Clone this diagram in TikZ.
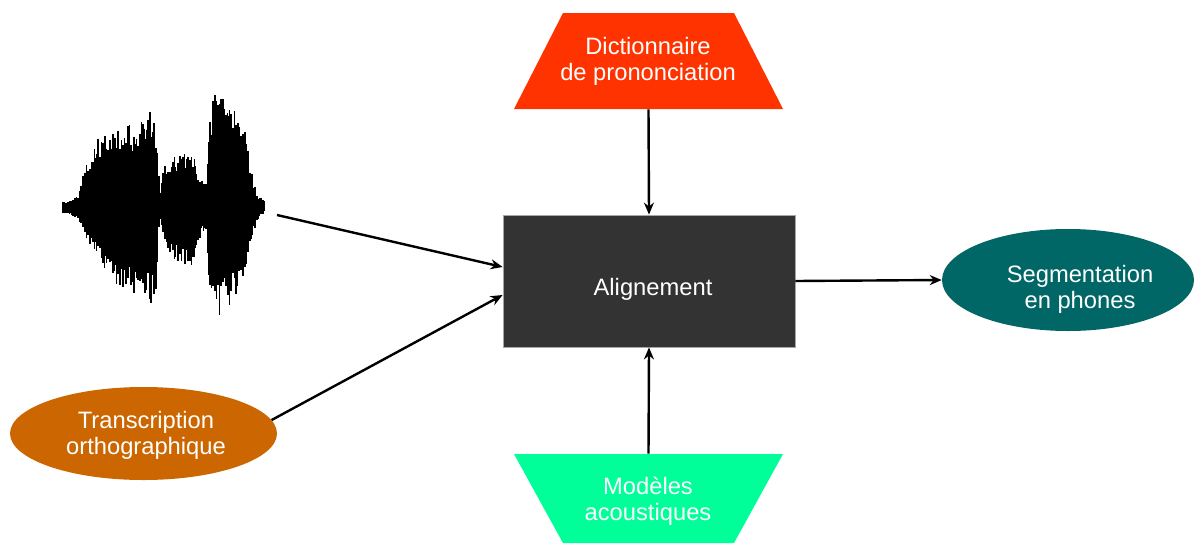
\documentclass[tikz,border=0pt]{standalone}
\usepackage{fontspec}
\setmainfont{Liberation Sans}
\usetikzlibrary{shapes.geometric,arrows.meta,calc}
\definecolor{dictred}{HTML}{FF3300}
\definecolor{modgreen}{HTML}{00FF99}
\definecolor{segteal}{HTML}{006666}
\definecolor{transor}{HTML}{CC6600}
\definecolor{boxgray}{HTML}{333333}
\begin{document}
\begin{tikzpicture}[x=0.75pt,y=-0.75pt,
  lbl/.style={text=white, font=\fontsize{17.8}{19.5}\selectfont, align=center, inner sep=0pt},
  conn/.style={line width=1.8pt, -{Stealth[length=9pt,width=7.5pt]}},
  ghost/.style={rectangle, inner sep=0pt, draw=none}]
\useasboundingbox (0,0) rectangle (1195,543);
% waveform
\pgfmathsetseed{11}
\foreach \xa/\ua/\da/\xb/\ub/\db in {
 63/6/6/70/7/8, 70/7/8/78/12/12, 78/12/12/85/40/34, 85/40/34/95/68/52,
 95/68/52/105/76/66, 105/76/66/115/80/78, 115/80/78/123/92/86, 123/92/86/135/82/92,
 135/82/92/145/88/98, 145/88/98/151/106/100, 151/106/100/156/78/82, 156/78/82/160/20/17,
 160/20/17/165/44/40, 165/44/40/175/54/56, 175/54/56/185/58/62, 185/58/62/195/50/56,
 195/50/56/202/26/28, 202/26/28/206/24/22, 206/24/22/210/100/90, 210/100/90/218/122/112,
 218/122/112/228/110/102, 228/110/102/238/106/90, 238/106/90/245/78/68, 245/78/68/252/34/34,
 252/34/34/258/12/12, 258/12/12/265/6/6}{
  \pgfmathsetmacro\len{\xb-\xa}
  \foreach \t in {0,1.6,...,\len}{
    \pgfmathsetmacro\u{(\ua+(\ub-\ua)*\t/\len)*(0.66+0.34*rnd)}
    \pgfmathsetmacro\d{(\da+(\db-\da)*\t/\len)*(0.66+0.34*rnd)}
    \draw[line width=1.15pt] (\xa+\t,207-\u) -- (\xa+\t,207+\d);
  }
}
\coordinate (wave) at (277,215);
% shapes
\fill[dictred] (563,13) -- (734,13) -- (783,109) -- (514,109) -- cycle;
\node[ghost, minimum width=201.75pt, minimum height=72pt] (dict) at (648.5,61) {};
\fill[modgreen] (514,454) -- (783,454) -- (734,543) -- (563,543) -- cycle;
\node[ghost, minimum width=201.75pt, minimum height=66.75pt] (mod) at (648.5,498.5) {};
\node[rectangle, fill=boxgray, draw=gray!70, line width=0.6pt, minimum width=219pt, minimum height=99pt, inner sep=0pt] (align) at (649,281) {};
\node[ellipse, fill=segteal, minimum width=189pt, minimum height=76.5pt, inner sep=0pt] (seg) at (1068,280) {};
\node[ellipse, fill=transor, minimum width=200.25pt, minimum height=69.75pt, inner sep=0pt] (trans) at (143.5,433.5) {};
% labels
\node[lbl] (tdict) at (648,61) {Dictionnaire\\de prononciation};
\node[lbl] (tmod) at (648,501) {Modèles\\acoustiques};
\node[lbl] (talign) at (653,289) {Alignement};
\node[lbl] (tseg) at (1080,289) {Segmentation\\en phones};
\node[lbl] (ttrans) at (146,435) {Transcription\\orthographique};
% connectors
\draw[conn] (dict.south) -- (align.north);
\draw[conn] (mod.north) -- (align.south);
\draw[conn] (align.east) -- (seg.west);
\draw[conn] (wave) -- ($(align.west)+(0,-14)$);
\draw[conn] (trans.6) -- ($(align.west)+(0,14)$);
\end{tikzpicture}
\end{document}
